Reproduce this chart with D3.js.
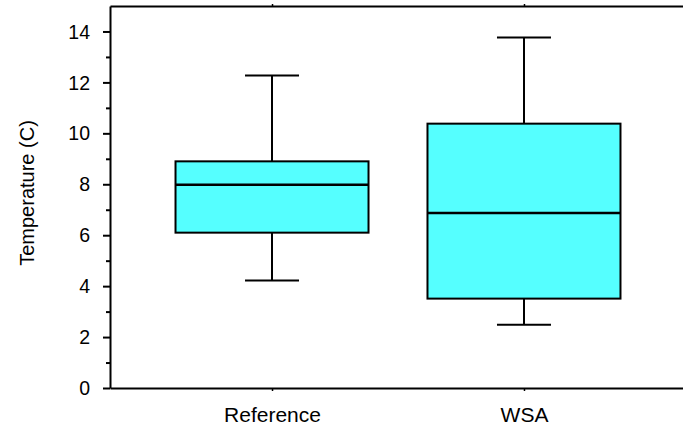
<!DOCTYPE html>
<html>
<head>
<meta charset="utf-8">
<script src="https://cdn.jsdelivr.net/npm/d3@7"></script>
<style>
  body { margin: 0; background: #fff; }
  text { font-family: "Liberation Sans", Arial, sans-serif; fill: #000; }
</style>
</head>
<body>
<div id="chart"></div>
<script>
// box plot of temperature by site

const FRAME_WIDTH = 683;
const FRAME_HEIGHT = 430;
const MARGINS = {left: 110, right: -3, top: 6, bottom: 42};

const categories = ['Reference', 'WSA'];
const whiskerLow = [4.22, 2.48];
const q1 = [6.10, 3.51];
const median = [7.98, 6.87];
const q3 = [8.90, 10.38];
const whiskerHigh = [12.27, 13.76];
const yTicks = [0, 2, 4, 6, 8, 10, 12, 14];
const yMinorTicks = [1, 3, 5, 7, 9, 11, 13];

const boxes = categories.map((c, i) => ({
    name: c, lo: whiskerLow[i], q1: q1[i], med: median[i], q3: q3[i], hi: whiskerHigh[i]
}));

const svg = d3.select('#chart')
    .append('svg')
        .attr('width', FRAME_WIDTH)
        .attr('height', FRAME_HEIGHT);

const x = d3.scalePoint()
    .domain(categories)
    .range([MARGINS.left, FRAME_WIDTH - MARGINS.right])
    .padding(0.643);

const y = d3.scaleLinear()
    .domain([0, 15])
    .range([FRAME_HEIGHT - MARGINS.bottom, MARGINS.top]);

const BOX_W = 193;
const CAP_W = 54;

// whiskers
const g = svg.append('g');
boxes.forEach((d) => {
    const cx = x(d.name);
    g.append('line')
        .attr('x1', cx).attr('x2', cx)
        .attr('y1', y(d.q3)).attr('y2', y(d.hi))
        .attr('stroke', '#000').attr('stroke-width', 2);
    g.append('line')
        .attr('x1', cx).attr('x2', cx)
        .attr('y1', y(d.q1)).attr('y2', y(d.lo))
        .attr('stroke', '#000').attr('stroke-width', 2);
    g.append('line')
        .attr('x1', cx - CAP_W / 2).attr('x2', cx + CAP_W / 2)
        .attr('y1', y(d.hi)).attr('y2', y(d.hi))
        .attr('stroke', '#000').attr('stroke-width', 2);
    g.append('line')
        .attr('x1', cx - CAP_W / 2).attr('x2', cx + CAP_W / 2)
        .attr('y1', y(d.lo)).attr('y2', y(d.lo))
        .attr('stroke', '#000').attr('stroke-width', 2);
    g.append('rect')
        .attr('x', cx - BOX_W / 2)
        .attr('y', y(d.q3))
        .attr('width', BOX_W)
        .attr('height', y(d.q1) - y(d.q3))
        .attr('fill', '#55ffff')
        .attr('stroke', '#000').attr('stroke-width', 2);
    g.append('line')
        .attr('x1', cx - BOX_W / 2).attr('x2', cx + BOX_W / 2)
        .attr('y1', y(d.med)).attr('y2', y(d.med))
        .attr('stroke', '#000').attr('stroke-width', 2.5);
});

// left axis
const yAxis = svg.append('g')
    .attr('transform', 'translate(' + MARGINS.left + ',0)')
    .call(d3.axisLeft(y).tickValues(yTicks).tickSize(7).tickSizeOuter(0).tickPadding(13));
yAxis.selectAll('text').attr('font-size', '19.5px').attr('dy', '0.34em');
yAxis.select('.domain').attr('stroke-width', 2);
yAxis.selectAll('.tick line').attr('stroke-width', 2);

svg.append('g')
    .attr('transform', 'translate(' + MARGINS.left + ',0)')
    .call(d3.axisLeft(y).tickValues(yMinorTicks).tickSize(4).tickFormat(''))
    .call((a) => a.select('.domain').remove())
    .selectAll('.tick line').attr('stroke-width', 2);

// bottom axis
const xAxis = svg.append('g')
    .attr('transform', 'translate(0,' + y(0) + ')')
    .call(d3.axisBottom(x).tickSize(3).tickSizeOuter(0));
xAxis.select('.domain').attr('stroke-width', 2);
xAxis.selectAll('.tick line').attr('stroke-width', 1.5);
xAxis.selectAll('text').attr('font-size', '21px').attr('y', 34).attr('dy', 0);

// top frame line
const topAxis = svg.append('g')
    .attr('transform', 'translate(0,' + y(15) + ')')
    .call(d3.axisTop(x).tickSize(2).tickSizeOuter(0).tickFormat(''));
topAxis.select('.domain').attr('stroke-width', 2);
topAxis.selectAll('.tick line').attr('stroke-width', 1.5);

// y label
svg.append('text')
    .attr('transform', 'translate(34,' + ((y(0) + y(15)) / 2 - 4) + ') rotate(-90)')
    .attr('text-anchor', 'middle')
    .attr('font-size', '20px')
    .text('Temperature (C)');
</script>
</body>
</html>
